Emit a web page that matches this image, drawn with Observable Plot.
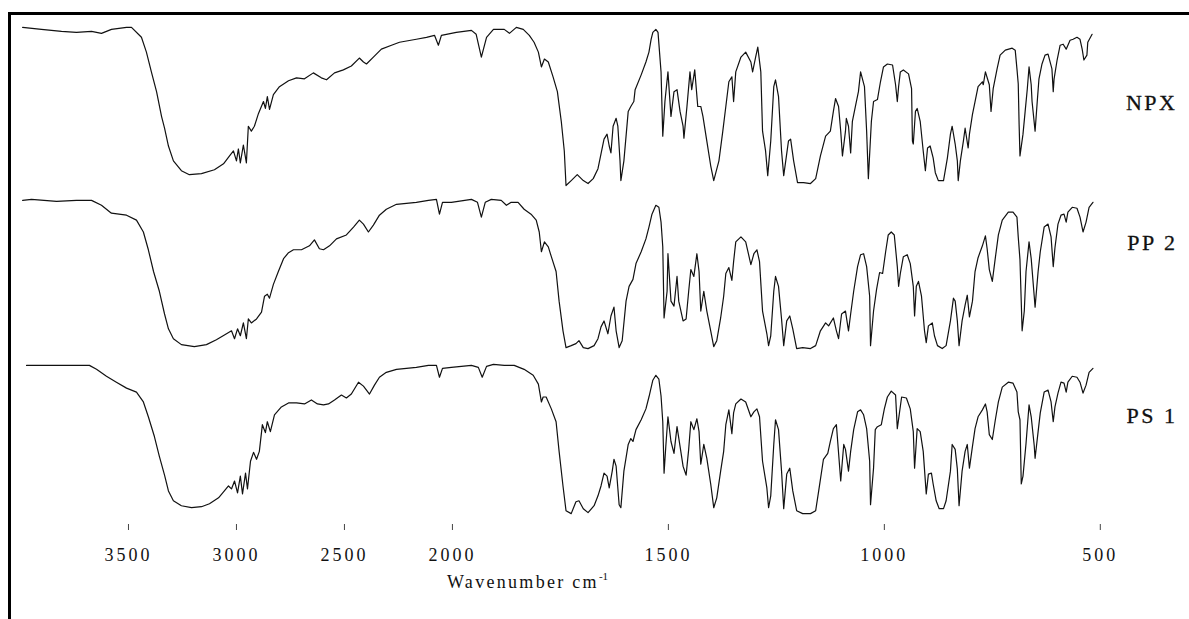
<!DOCTYPE html>
<html>
<head>
<meta charset="utf-8">
<script src="https://cdn.jsdelivr.net/npm/d3@7"></script>
<script src="https://cdn.jsdelivr.net/npm/@observablehq/plot@0.6"></script>
<style>
  html, body { margin: 0; padding: 0; background: #fff; width: 1189px; height: 619px; overflow: hidden; }
  #wrap { position: relative; width: 1189px; height: 619px; font-family: "Liberation Serif", "DejaVu Serif", serif; }
  #frame { position: absolute; left: 8px; top: 12px; width: 1300px; height: 700px; border-top: 3px solid #000; border-left: 3px solid #000; }
  #chart { position: absolute; left: 0; top: 0; }
  #xlabel { position: absolute; left: 447px; top: 571px; font-size: 18px; letter-spacing: 2.3px; color: #111; white-space: nowrap; }
  #xlabel sup { font-size: 11px; position: relative; top: -1px; letter-spacing: 0; }
  #chart svg g[aria-label="x-axis tick label"] text { letter-spacing: 3px; }
  #chart svg g[aria-label="text"] text { letter-spacing: 2.5px; }
</style>
</head>
<body>
<div id="wrap">
  <div id="frame"></div>
  <div id="chart"></div>
  <div id="xlabel">Wavenumber cm<sup>-1</sup></div>
</div>
<script>
// Series names (top to bottom)
const seriesNames = ["NPX", "PP 2", "PS 1"];

// x-axis tick labels (wavenumber, cm-1)
const xTicks = [3500, 3000, 2500, 2000, 1500, 1000, 500];

// NPX spectrum: [wavenumber cm-1, transmittance (arbitrary %T)]
const npx = [
  [3990,81.5],[3903,80.5],[3810,79.5],[3741,79],[3671,79.5],[3625,78.5],[3579,80.5],[3509,81.5],[3486,81.5],
  [3440,76.5],[3417,69],[3394,59],[3370,49],[3347,36.5],[3333,30.5],[3315,21.5],[3292,14],[3255,9],[3218,7],
  [3162,7.5],[3102,9.5],[3060,12.5],[3032,16.5],[3014,19],[3000,14],[2991,20],[2982,13],[2968,22],[2954,13],
  [2945,31.5],[2931,29],[2917,31.5],[2898,38],[2875,44],[2866,40.5],[2857,46.5],[2847,40],[2829,47.5],[2801,51.5],
  [2759,54.5],[2722,56],[2685,55.5],[2644,58.5],[2607,56],[2583,55],[2546,58.5],[2505,60],[2468,62],[2431,66],
  [2412,64],[2398,63],[2366,66.5],[2329,70.5],[2282,72.5],[2245,74],[2167,75.5],[2120,76.5],[2083,77.5],[2065,72.5],
  [2051,77.5],[1991,79],[1956,80],[1945,78],[1933,66.5],[1921,76.5],[1905,80.5],[1880,80.5],[1868,78.5],[1852,81.5],
  [1836,80.5],[1822,77.5],[1811,74],[1801,69],[1794,61.5],[1787,65.5],[1778,64],[1767,56.5],[1757,49],[1748,34],
  [1741,19],[1737,1.5],[1725,4],[1711,7],[1697,4],[1686,2.5],[1674,5],[1663,10],[1656,17.5],[1649,25],[1642,27.5],
  [1637,21.5],[1633,18],[1628,31.5],[1621,35.5],[1617,31.5],[1612,14],[1610,4],[1603,14],[1593,39],[1587,41.5],
  [1580,44],[1577,50],[1563,57.5],[1552,64],[1545,69],[1540,75.5],[1536,79],[1529,80.5],[1524,79],[1517,59],
  [1513,26.5],[1508,44],[1501,59],[1494,36.5],[1487,49],[1480,50],[1473,39],[1466,31.5],[1464,25.5],[1457,41.5],
  [1450,59],[1446,50],[1439,60],[1432,41.5],[1425,41.5],[1420,36.5],[1411,24],[1402,11.5],[1395,4],[1383,14],
  [1374,29],[1367,41.5],[1360,54],[1353,56.5],[1349,44],[1344,59],[1332,66.5],[1321,69],[1309,64],[1305,59],
  [1298,66.5],[1293,71.5],[1286,59],[1282,29],[1275,19],[1270,6.5],[1263,24],[1256,51.5],[1252,55],[1245,46.5],
  [1238,19],[1233,6.5],[1222,24],[1217,25],[1210,14],[1201,3],[1187,3],[1171,2.5],[1159,5],[1148,16.5],[1136,26.5],
  [1125,29],[1118,39],[1113,45.5],[1106,41.5],[1101,29],[1097,16.5],[1090,29],[1088,35.5],[1083,31.5],[1078,18],
  [1074,34],[1067,41.5],[1060,49],[1055,59],[1046,51.5],[1041,29],[1037,5],[1030,34],[1025,44],[1016,45],[1009,54],
  [1002,61.5],[993,63],[981,62.5],[974,52.5],[970,44],[967,51.5],[963,59],[956,60],[944,58],[937,50.5],[935,24],
  [933,22.5],[928,39],[924,40.5],[917,34],[910,19],[905,9],[900,20.5],[894,21.5],[887,15.5],[882,8],[875,4],[863,4],
  [854,15.5],[847,27.5],[843,31.5],[836,22.5],[831,14],[829,4],[824,14],[817,24],[813,30.5],[806,20.5],[803,27.5],
  [796,37.5],[790,44],[783,51.5],[773,54],[771,52.5],[766,59],[757,52.5],[753,39],[748,50.5],[739,60.5],[732,67.5],
  [720,70],[704,71],[697,70],[693,60.5],[690,53],[688,32.5],[686,16.5],[679,27.5],[674,39],[669,50.5],[665,61.5],
  [660,52.5],[658,44],[651,29],[646,44],[642,55.5],[635,63],[628,67.5],[621,68],[612,60.5],[609,49],[607,55.5],
  [600,65],[593,72.5],[586,73],[579,70.5],[575,72.5],[570,75],[563,75.5],[554,76.5],[547,75.5],[542,70.5],[538,65],
  [531,67.5],[529,74],[519,78]
];

// PP 2 spectrum
const pp2 = [
  [3990,79],[3949,79.5],[3833,78.5],[3741,79],[3671,79],[3625,76.5],[3579,72.5],[3509,71.5],[3463,69],[3431,63],
  [3408,54],[3384,43],[3357,33],[3333,21.5],[3315,14],[3292,9],[3255,6],[3195,5],[3139,6],[3093,8.5],[3046,11.5],
  [3023,13],[3009,9],[2995,14],[2982,10.5],[2968,17],[2954,9],[2945,19],[2931,17],[2907,19],[2884,22.5],[2870,30.5],
  [2857,31.5],[2847,29.5],[2829,36.5],[2806,43],[2782,49.5],[2759,52.5],[2736,54],[2699,54],[2662,56],[2639,59],
  [2616,54.5],[2597,54],[2569,56],[2537,59.5],[2491,61.5],[2458,65.5],[2431,69],[2412,67],[2389,63],[2366,66.5],
  [2338,71.5],[2306,74.5],[2259,77],[2213,77.5],[2167,78],[2111,79],[2074,79.5],[2060,72],[2046,78],[2005,78],
  [1956,79.5],[1942,78],[1933,70.5],[1924,78],[1910,79.5],[1887,79],[1875,76.5],[1864,78],[1848,78],[1834,74.5],
  [1818,72],[1806,69],[1799,63],[1794,53],[1787,58],[1778,55.5],[1771,50.5],[1760,43],[1753,28],[1744,13],
  [1737,4.5],[1725,5.5],[1714,6.5],[1707,8],[1697,4.5],[1686,4],[1672,5.5],[1663,9],[1656,15],[1649,18],[1640,11.5],
  [1633,20.5],[1626,25],[1621,13],[1614,4.5],[1607,8],[1598,28],[1591,35.5],[1582,39],[1575,47],[1563,53],
  [1552,59.5],[1545,65.5],[1538,72],[1529,76.5],[1522,75.5],[1517,68],[1513,55.5],[1510,19.5],[1503,33],[1501,52],
  [1494,28],[1487,25.5],[1480,40.5],[1476,28],[1466,18],[1459,19],[1453,33],[1448,44],[1441,40.5],[1434,52],
  [1429,43],[1425,23],[1418,33],[1411,23],[1402,13],[1395,5],[1388,8],[1379,19.5],[1372,30.5],[1367,42],[1360,45],
  [1353,38.5],[1349,48],[1344,58],[1332,60.5],[1321,58],[1309,46.5],[1302,52],[1295,54],[1289,48],[1282,23],
  [1272,11.5],[1268,5.5],[1263,10.5],[1256,33],[1252,40.5],[1245,35.5],[1238,19],[1233,5.5],[1226,18],[1219,20.5],
  [1212,14],[1203,4],[1189,4.5],[1171,4],[1159,5.5],[1148,13],[1136,17],[1129,15.5],[1118,19.5],[1111,13],[1106,9],
  [1099,21.5],[1090,23],[1083,13],[1078,21.5],[1071,33],[1062,45.5],[1055,51.5],[1048,52],[1041,45.5],[1034,30.5],
  [1032,5.5],[1025,23],[1018,34],[1011,42.5],[1004,42],[997,53],[991,61.5],[984,63],[977,61.5],[970,45.5],[967,35.5],
  [963,42],[956,50.5],[947,51.5],[940,47],[933,35.5],[930,20.5],[926,35.5],[921,38],[914,30.5],[907,13],[903,7],
  [898,15.5],[889,17],[884,10.5],[877,5.5],[866,4],[857,5.5],[847,18],[840,29.5],[836,28],[831,18],[827,5.5],
  [820,18],[813,26],[808,31],[803,20],[796,28],[790,43],[783,50],[773,56],[766,61],[762,54.5],[757,44],[750,38],
  [743,50],[736,61.5],[727,69],[713,73],[702,73],[693,70.5],[690,60.5],[686,49],[681,13],[676,23],[672,43],
  [665,58],[660,49.5],[653,30.5],[651,25],[644,43],[639,53],[630,65.5],[621,67],[614,60.5],[609,45.5],[605,55],
  [598,67],[591,71.5],[584,72],[579,68],[575,73],[565,75.5],[554,75],[547,70.5],[540,63],[533,68],[526,75.5],[517,78]
];

// PS 1 spectrum
const ps1 = [
  [3972,80.5],[3903,80.5],[3810,80.5],[3718,80.5],[3681,80.5],[3648,78.5],[3602,75],[3556,72],[3509,69],[3463,67],
  [3431,62],[3408,54.5],[3380,44.5],[3357,34.5],[3333,25],[3315,17],[3292,12],[3255,9.5],[3208,8.5],[3162,9],
  [3125,10.5],[3083,13.5],[3056,17],[3037,19.5],[3023,18],[3009,22],[2995,16],[2982,24.5],[2972,15.5],[2958,26],
  [2949,18],[2935,32],[2921,36.5],[2907,33],[2894,37],[2880,50.5],[2866,46.5],[2857,52],[2843,47],[2824,55.5],
  [2792,59.5],[2759,61.5],[2722,61.5],[2685,61],[2653,63],[2625,61],[2597,60.5],[2574,61],[2546,63],[2514,65.5],
  [2491,64],[2468,66],[2435,72],[2412,70],[2384,66],[2361,70.5],[2338,74.5],[2306,77],[2259,78.5],[2213,79],
  [2167,79.5],[2111,80.5],[2074,80.5],[2060,74.5],[2046,79],[2005,79.5],[1956,80.5],[1940,79.5],[1931,74.5],
  [1921,80],[1905,81],[1880,80.5],[1857,80.5],[1834,78.5],[1813,75.5],[1801,71],[1794,62],[1790,64.5],[1783,64.5],
  [1771,58.5],[1760,52],[1753,37],[1744,19.5],[1737,7],[1725,5.5],[1714,11.5],[1707,12],[1697,8],[1686,6],
  [1672,9.5],[1663,14.5],[1656,19.5],[1649,26],[1642,24.5],[1637,18.5],[1630,27],[1626,33],[1621,29.5],[1614,10],
  [1610,8.5],[1603,27],[1593,40.5],[1587,43.5],[1582,42],[1575,48],[1563,53],[1552,58.5],[1545,64.5],[1536,73],
  [1529,75.5],[1522,73.5],[1517,65],[1513,52],[1510,26],[1506,39.5],[1501,54.5],[1494,42],[1487,36],[1480,49.5],
  [1473,39.5],[1466,29.5],[1459,25],[1453,38],[1448,52],[1441,48],[1434,53.5],[1429,47],[1425,30.5],[1418,40.5],
  [1411,33.5],[1402,20.5],[1395,8.5],[1388,13.5],[1379,27],[1372,37],[1367,50.5],[1360,58],[1353,46],[1349,56.5],
  [1344,61],[1332,63.5],[1321,62],[1309,54.5],[1302,57],[1295,58.5],[1289,54.5],[1282,32],[1272,18.5],[1268,8.5],
  [1263,14.5],[1256,40.5],[1252,53],[1245,48],[1238,27],[1233,8],[1226,25.5],[1219,28.5],[1212,17],[1203,7],
  [1189,5.5],[1171,5.5],[1159,7],[1152,17],[1141,33],[1131,36],[1125,42],[1118,48.5],[1111,50.5],[1101,22],
  [1094,40.5],[1090,38],[1083,27],[1078,37],[1071,48],[1062,57],[1055,58],[1048,55.5],[1041,48.5],[1034,32],
  [1032,10],[1025,28.5],[1021,48],[1016,49.5],[1007,50.5],[1000,58.5],[993,64.5],[984,67.5],[974,65.5],[970,48.5],
  [960,64.5],[949,64],[940,58.5],[933,47],[930,28.5],[924,48.5],[917,47],[910,37],[903,15.5],[898,25.5],[891,26],
  [887,20.5],[880,12],[873,8],[863,8],[857,12],[847,27],[843,40.5],[836,38],[831,28],[827,9.5],[820,27],[813,37],
  [808,40.5],[803,28.5],[796,39.5],[790,48.5],[783,54.5],[773,58],[766,61],[762,57],[757,45.5],[750,43],[743,53],
  [736,62],[727,69.5],[713,72],[702,71.5],[693,67],[690,57],[686,53],[683,20.5],[679,24.5],[672,41],[665,60.5],
  [660,54.5],[653,40],[651,33.5],[644,47],[639,56.5],[630,67],[621,68],[614,62],[609,52],[605,59.5],[598,66.5],
  [591,72],[584,71.5],[579,67],[575,72],[565,75],[554,74.5],[547,72],[540,66.5],[533,70.5],[526,77],[517,79]
];

const spectra = [npx, pp2, ps1];
const rows = spectra.flatMap((pts, i) =>
  pts.map(([wavenumber, transmittance]) => ({series: seriesNames[i], wavenumber, transmittance}))
);

// The instrument chart expands the scale 2x below 2000 cm-1
const expandBelow2000 = wn => (wn >= 2000 ? wn : 2 * wn - 2000);
const restoreWavenumber = t => (t >= 2000 ? t : (t + 2000) / 2);

const labelText = (name, dy) =>
  Plot.text([name], {
    fy: d => d, text: d => d, frameAnchor: "right", textAnchor: "end",
    dx: -12, dy, fontSize: 22, fill: "#111", stroke: "#111", strokeWidth: 0.3
  });

const chart = Plot.plot({
  width: 1189,
  height: 600,
  marginTop: 20,
  marginBottom: 76,
  marginLeft: 0,
  marginRight: 0,
  style: {fontFamily: "'Liberation Serif', 'DejaVu Serif', serif", background: "transparent", color: "#111"},
  x: {type: "linear", transform: expandBelow2000, domain: [4000, -1200], range: [20, 1143], axis: null},
  y: {domain: [0, 85], axis: null},
  fy: {domain: seriesNames, padding: 0, axis: null},
  marks: [
    Plot.line(rows, {x: "wavenumber", y: "transmittance", fy: "series", z: "series",
      stroke: "#111", strokeWidth: 1.2}),
    // axis ticks are positions on the (already expanded) scale; labels show the wavenumber
    Plot.axisX({ticks: xTicks.map(expandBelow2000), tickFormat: t => String(restoreWavenumber(t)),
      tickSize: 6, tickPadding: 18, fontSize: 18, label: null, stroke: "#444"}),
    labelText("NPX", -2),
    labelText("PP 2", -30),
    labelText("PS 1", -25)
  ]
});
document.getElementById("chart").appendChild(chart);
</script>
</body>
</html>
